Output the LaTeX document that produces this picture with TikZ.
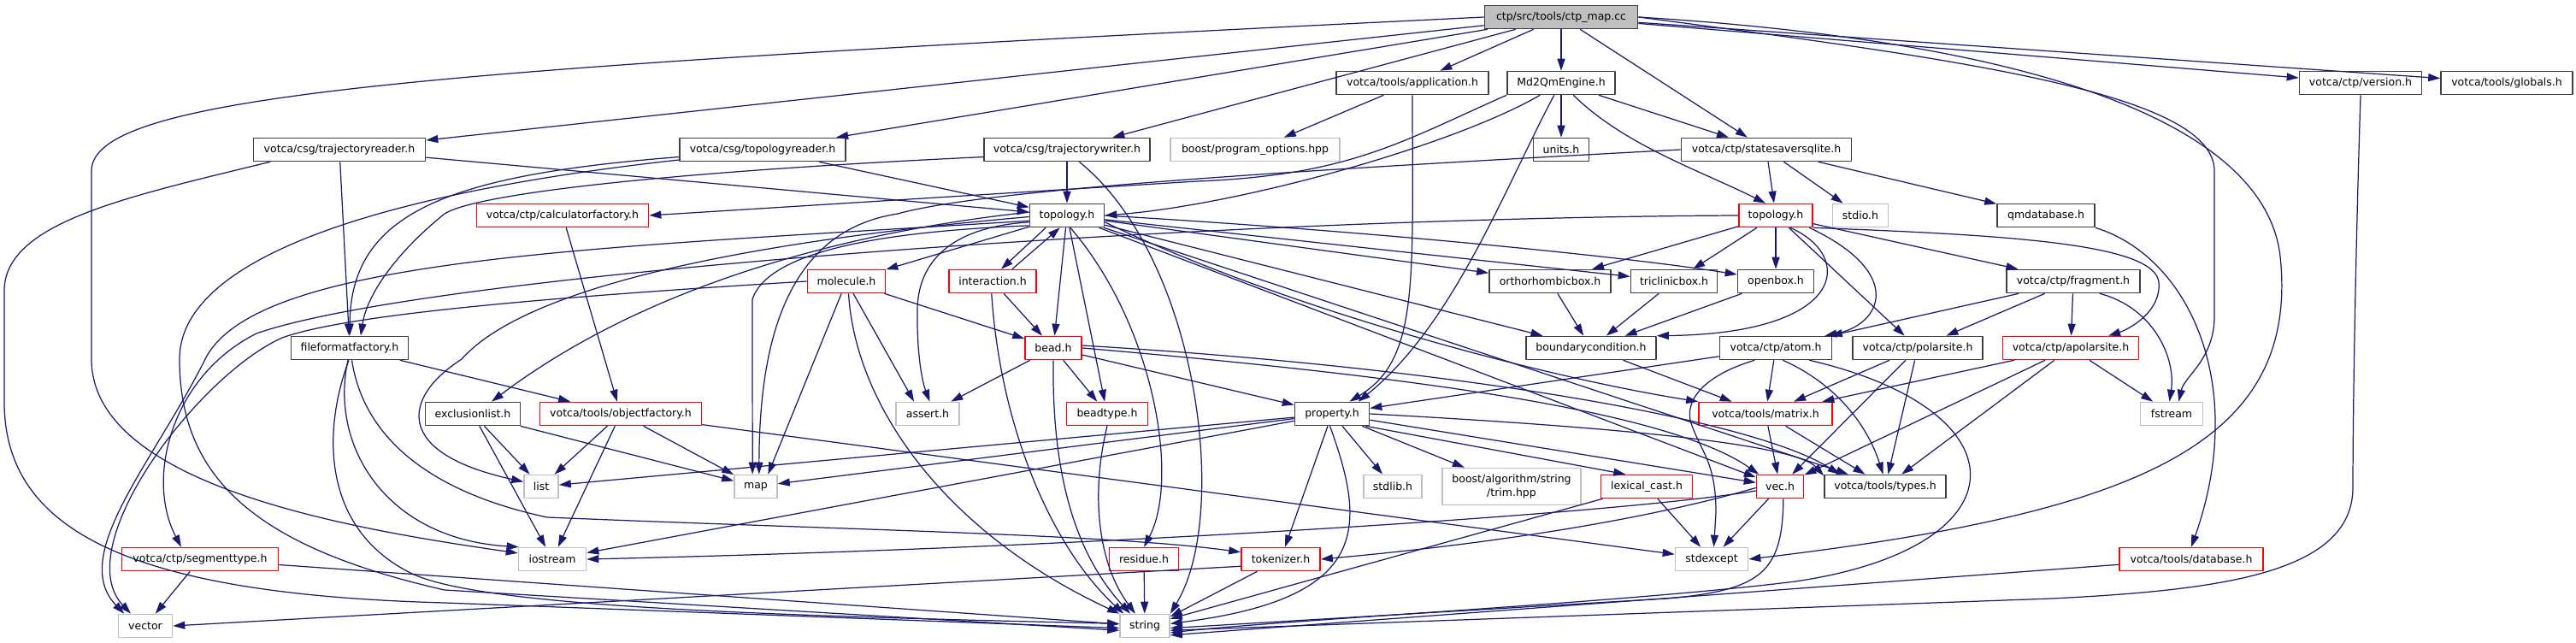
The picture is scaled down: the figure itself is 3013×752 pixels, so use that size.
\documentclass[tikz,border=0pt]{standalone}
\usepackage{fontspec}
\newfontfamily\hdrfont{DejaVu Sans}
\usetikzlibrary{arrows.meta}

\definecolor{edgeblue}{RGB}{25,25,112}
\definecolor{boxgray}{RGB}{191,191,191}
\definecolor{boxline}{RGB}{64,64,64}

\tikzset{
  file/.style={draw=boxline, fill=white, line width=0.45pt, inner sep=0pt,
    minimum height=0.27cm, font={\hdrfont\fontsize{3.55}{4.5}\selectfont}},
  trunc/.style={file, draw=red},
  sys/.style={file, draw=boxgray},
  root/.style={file, fill=boxgray},
  dep/.style={draw=edgeblue, line width=0.35pt, -{Triangle[length=1.4mm,width=0.9mm]}}
}

\begin{document}
\begin{tikzpicture}[x=0.01cm, y=-0.01cm, line join=round]
  \useasboundingbox (0,0) rectangle (3013,752);

  % headers, row by row
  \node[root, minimum width=1.79cm] (main) at (1826,20) {ctp/src/tools/ctp\_map.cc};

  \node[file, minimum width=1.78cm] (app) at (1652,97) {votca/tools/application.h};
  \node[file, minimum width=1.26cm] (md) at (1826,97) {Md2QmEngine.h};
  \node[file, minimum width=1.43cm] (ver) at (2761,97) {votca/ctp/version.h};
  \node[file, minimum width=1.54cm] (glob) at (2932,97) {votca/tools/globals.h};

  \node[file, minimum width=2.01cm] (trr) at (397,175) {votca/csg/trajectoryreader.h};
  \node[file, minimum width=1.94cm] (tpr) at (892,175) {votca/csg/topologyreader.h};
  \node[file, minimum width=1.94cm] (trw) at (1248,175) {votca/csg/trajectorywriter.h};
  \node[sys, minimum width=1.98cm] (popt) at (1468,175) {boost/program\_options.hpp};
  \node[file, minimum width=0.65cm] (units) at (1826,175) {units.h};
  \node[file, minimum width=1.99cm] (ssq) at (2066,175) {votca/ctp/statesaversqlite.h};

  \node[trunc, minimum width=2.01cm] (calc) at (658,252) {votca/ctp/calculatorfactory.h};
  \node[file, minimum width=0.87cm] (tcsg) at (1248,252) {topology.h};
  \node[trunc, minimum width=0.86cm] (tctp) at (2077,252) {topology.h};
  \node[sys, minimum width=0.65cm] (stdio) at (2176,252) {stdio.h};
  \node[file, minimum width=1.14cm] (qmdb) at (2393,252) {qmdatabase.h};

  \node[trunc, minimum width=0.91cm] (mol) at (990,329) {molecule.h};
  \node[trunc, minimum width=1.02cm] (inter) at (1161,329) {interaction.h};
  \node[file, minimum width=1.42cm] (ortho) at (1813,329) {orthorhombicbox.h};
  \node[file, minimum width=1.01cm] (tric) at (1958,329) {triclinicbox.h};
  \node[file, minimum width=0.89cm] (openb) at (2077,329) {openbox.h};
  \node[file, minimum width=1.56cm] (frag) at (2425,329) {votca/ctp/fragment.h};

  \node[file, minimum width=1.37cm] (fff) at (409,407) {fileformatfactory.h};
  \node[trunc, minimum width=0.66cm] (bead) at (1232,407) {bead.h};
  \node[file, minimum width=1.52cm] (bc) at (1861,407) {boundarycondition.h};
  \node[file, minimum width=1.31cm] (atom) at (2077,407) {votca/ctp/atom.h};
  \node[file, minimum width=1.52cm] (pol) at (2243,407) {votca/ctp/polarsite.h};
  \node[trunc, minimum width=1.59cm] (apol) at (2422,407) {votca/ctp/apolarsite.h};

  \node[file, minimum width=1.11cm] (excl) at (553,484) {exclusionlist.h};
  \node[trunc, minimum width=1.89cm] (objf) at (726,484) {votca/tools/objectfactory.h};
  \node[sys, minimum width=0.74cm] (asrt) at (1085,484) {assert.h};
  \node[trunc, minimum width=0.95cm] (btype) at (1295,484) {beadtype.h};
  \node[file, minimum width=0.87cm] (prop) at (1558,484) {property.h};
  \node[trunc, minimum width=1.56cm] (matr) at (2065,484) {votca/tools/matrix.h};
  \node[sys, minimum width=0.73cm] (fstr) at (2540,484) {fstream};

  \node[sys, minimum width=0.40cm] (list) at (633,569) {list};
  \node[sys, minimum width=0.50cm] (map) at (884,569) {map};
  \node[sys, minimum width=0.68cm] (stdl) at (1629,569) {stdlib.h};
  \node[sys, minimum width=1.62cm, minimum height=0.43cm, align=center] (trim) at (1768,569) {boost/algorithm/string\\/trim.hpp};
  \node[trunc, minimum width=1.07cm] (lexc) at (1926,569) {lexical\_cast.h};
  \node[trunc, minimum width=0.55cm] (vec) at (2082,569) {vec.h};
  \node[file, minimum width=1.42cm] (types) at (2205,569) {votca/tools/types.h};

  \node[trunc, minimum width=1.83cm] (segt) at (234,654) {votca/ctp/segmenttype.h};
  \node[sys, minimum width=0.79cm] (iost) at (646,654) {iostream};
  \node[trunc, minimum width=0.81cm] (resid) at (1338,654) {residue.h};
  \node[trunc, minimum width=0.92cm] (tok) at (1498,654) {tokenizer.h};
  \node[sys, minimum width=0.85cm] (stdx) at (2002,654) {stdexcept};
  \node[trunc, minimum width=1.68cm] (dbase) at (2563,654) {votca/tools/database.h};

  \node[sys, minimum width=0.63cm] (vect) at (170,732) {vector};
  \node[sys, minimum width=0.58cm] (str) at (1339,732) {string};

  % ctp_map.cc
  \draw[dep] (main) -- (trr);
  \draw[dep] (main) -- (tpr);
  \draw[dep] (main) -- (trw);
  \draw[dep] (main) -- (app);
  \draw[dep] (main) -- (md);
  \draw[dep] (main) -- (ssq);
  \draw[dep] (main) -- (ver);
  \draw[dep] (main) -- (glob);
  \draw[dep] (main.west) .. controls (500,80) and (107,110) .. (107,200) -- (107,420)
    .. controls (107,570) and (420,620) .. (iost.170);
  \draw[dep] (main.east) .. controls (2300,70) and (2590,110) .. (2590,200) -- (2590,370)
    .. controls (2590,420) and (2555,440) .. (fstr.60);
  \draw[dep] (main.east) .. controls (2400,50) and (2650,150) .. (2667,300)
    .. controls (2690,520) and (2500,600) .. (stdx.east);

  % application.h, Md2QmEngine.h
  \draw[dep] (app) -- (popt);
  \draw[dep] (app.south) .. controls (1652,330) and (1660,420) .. (prop.35);
  \draw[dep] (md) -- (units);
  \draw[dep] (md) -- (ssq);
  \draw[dep] (md.-45) .. controls (1900,170) and (1990,200) .. (tctp.130);
  \draw[dep] (md.-150) .. controls (1700,170) and (1450,240) .. (tcsg.east);
  \draw[dep] (md.south west) .. controls (1640,165) and (1580,205) .. (1400,212) -- (calc.east);
  \draw[dep] (md.-120) .. controls (1760,220) and (1700,380) .. (prop.25);

  % csg readers and writer
  \draw[dep] (trr) -- (tcsg);
  \draw[dep] (trr) -- (fff);
  \draw[dep] (trr.-170) .. controls (150,230) and (5,260) .. (5,340) -- (5,470)
    .. controls (5,620) and (150,695) .. (520,705) -- (str.185);
  \draw[dep] (tpr) -- (tcsg);
  \draw[dep] (tpr.185) .. controls (520,205) and (410,250) .. (fff.north);
  \draw[dep] (tpr.187) .. controls (450,225) and (210,300) .. (210,420)
    .. controls (210,560) and (300,640) .. (520,690) -- (str.190);
  \draw[dep] (trw) -- (tcsg);
  \draw[dep] (trw.185) .. controls (800,200) and (560,225) .. (520,250)
    .. controls (470,290) and (430,340) .. (fff.48);
  \draw[dep] (trw.-45) .. controls (1400,300) and (1440,600) .. (str.north east);

  % statesaversqlite.h, qmdatabase.h, version.h
  \draw[dep] (ssq) -- (tctp);
  \draw[dep] (ssq) -- (stdio);
  \draw[dep] (ssq) -- (qmdb);
  \draw[dep] (ssq.west) .. controls (1500,200) and (1150,222) .. (1050,250)
    .. controls (920,270) and (888,400) .. (map.75);
  \draw[dep] (qmdb.south east) .. controls (2560,300) and (2630,450) .. (dbase.north);
  \draw[dep] (ver.south) .. controls (2755,300) and (2752,480) .. (2752,570)
    .. controls (2752,670) and (2600,690) .. (2400,700) -- (str.-10);
  \draw[dep] (dbase) -- (str.-20);

  % factories, exclusionlist.h
  \draw[dep] (calc) -- (objf);
  \draw[dep] (fff) -- (objf);
  \draw[dep] (fff.-98) .. controls (385,520) and (450,630) .. (iost.160);
  \draw[dep] (fff.-80) .. controls (425,510) and (500,575) .. (640,605)
    .. controls (1000,620) and (1300,625) .. (tok.170);
  \draw[dep] (fff.-94) .. controls (375,510) and (380,620) .. (480,670)
    .. controls (560,710) and (900,720) .. (str.175);
  \draw[dep] (objf) -- (list);
  \draw[dep] (objf) -- (map);
  \draw[dep] (objf) -- (iost);
  \draw[dep] (objf) -- (stdx);
  \draw[dep] (excl) -- (list);
  \draw[dep] (excl) -- (map);
  \draw[dep] (excl) -- (iost);

  % topology.h (csg)
  \draw[dep] (tcsg.-150) -- (inter.55);
  \draw[dep] (inter.32) -- (tcsg.-120);
  \draw[dep] (tcsg) -- (mol);
  \draw[dep] (tcsg) -- (bead);
  \draw[dep] (tcsg) -- (btype);
  \draw[dep] (tcsg.-75) .. controls (1350,380) and (1380,560) .. (resid.north);
  \draw[dep] (tcsg.-170) .. controls (1120,265) and (1075,300) .. (1073,360)
    .. controls (1072,420) and (1080,450) .. (asrt.80);
  \draw[dep] (tcsg.-165) .. controls (1050,270) and (900,290) .. (880,350) -- (map.105);
  \draw[dep] (tcsg.175) .. controls (1000,270) and (760,330) .. (excl.33);
  \draw[dep] (tcsg.-178) .. controls (900,280) and (620,330) .. (540,420)
    .. controls (470,465) and (460,530) .. (list.165);
  \draw[dep] (tcsg.-172) .. controls (700,290) and (300,300) .. (240,420)
    .. controls (180,540) and (80,650) .. (vect.150);
  \draw[dep] (tcsg) -- (ortho);
  \draw[dep] (tcsg) -- (tric);
  \draw[dep] (tcsg.east) .. controls (1600,270) and (1900,300) .. (openb.170);
  \draw[dep] (tcsg) -- (bc);
  \draw[dep] (tcsg.-10) .. controls (1500,360) and (1800,440) .. (matr.north west);
  \draw[dep] (tcsg) -- (vec);
  \draw[dep] (tcsg) -- (types);

  % molecule.h, interaction.h, bead.h
  \draw[dep] (mol) -- (bead);
  \draw[dep] (mol) -- (asrt.138);
  \draw[dep] (mol) -- (map.45);
  \draw[dep] (mol.-80) .. controls (1000,470) and (1100,620) .. (str.north west);
  \draw[dep] (mol.west) .. controls (600,350) and (400,370) .. (330,395)
    .. controls (230,440) and (80,640) .. (vect.140);
  \draw[dep] (inter) -- (bead);
  \draw[dep] (inter.-95) .. controls (1170,500) and (1230,640) .. (str.150);
  \draw[dep] (bead) -- (asrt);
  \draw[dep] (bead) -- (btype);
  \draw[dep] (bead) -- (prop);
  \draw[dep] (bead.south) .. controls (1230,560) and (1260,650) .. (str.140);
  \draw[dep] (bead.east) .. controls (1650,440) and (1950,480) .. (vec.150);
  \draw[dep] (bead.5) .. controls (1700,430) and (2050,490) .. (types.165);
  \draw[dep] (btype.south) .. controls (1275,580) and (1285,660) .. (str.128);
  \draw[dep] (resid) -- (str);

  % property.h and below
  \draw[dep] (prop) -- (tok);
  \draw[dep] (prop) -- (stdl);
  \draw[dep] (prop) -- (trim);
  \draw[dep] (prop.-20) -- (lexc.150);
  \draw[dep] (prop) -- (list);
  \draw[dep] (prop) -- (map);
  \draw[dep] (prop) -- (iost);
  \draw[dep] (prop) -- (vec);
  \draw[dep] (prop.east) .. controls (1900,500) and (2100,520) .. (types.170);
  \draw[dep] (prop.-100) .. controls (1600,620) and (1600,700) .. (str.5);
  \draw[dep] (lexc) -- (stdx);
  \draw[dep] (lexc) -- (str);
  \draw[dep] (vec) -- (stdx);
  \draw[dep] (vec.190) .. controls (1900,600) and (1300,640) .. (iost.east);
  \draw[dep] (vec.183) .. controls (1900,615) and (1700,640) .. (tok.east);
  \draw[dep] (vec.-75) .. controls (2085,670) and (2060,690) .. (1950,700) -- (str.-5);
  \draw[dep] (tok) -- (str.20);
  \draw[dep] (tok.190) -- (vect.east);
  \draw[dep] (segt) -- (vect);
  \draw[dep] (segt) -- (str);

  % boxes, matrix.h
  \draw[dep] (ortho) -- (bc);
  \draw[dep] (tric) -- (bc);
  \draw[dep] (openb) -- (bc);
  \draw[dep] (bc) -- (matr.160);
  \draw[dep] (matr) -- (vec);
  \draw[dep] (matr) -- (types);

  % topology.h (ctp) and its sites
  \draw[dep] (tctp) -- (ortho);
  \draw[dep] (tctp) -- (tric);
  \draw[dep] (tctp) -- (openb);
  \draw[dep] (tctp) -- (pol);
  \draw[dep] (tctp) -- (frag);
  \draw[dep] (tctp.-40) .. controls (2170,300) and (2160,390) .. (bc.north east);
  \draw[dep] (tctp.-20) .. controls (2230,320) and (2200,380) .. (atom.14);
  \draw[dep] (tctp.south east) .. controls (2350,275) and (2520,285) .. (2525,330)
    .. controls (2528,365) and (2490,385) .. (apol.18);
  \draw[dep] (tctp.west) .. controls (1400,255) and (500,320) .. (300,390)
    .. controls (200,440) and (170,560) .. (segt.147);
  \draw[dep] (frag) -- (atom);
  \draw[dep] (frag) -- (pol);
  \draw[dep] (frag) -- (apol);
  \draw[dep] (frag.-25) .. controls (2520,360) and (2545,420) .. (fstr.100);
  \draw[dep] (atom) -- (matr);
  \draw[dep] (atom) -- (prop);
  \draw[dep] (atom.-60) .. controls (2150,450) and (2185,500) .. (types.100);
  \draw[dep] (atom.-150) .. controls (1990,440) and (1970,470) .. (1978,495)
    .. controls (1990,530) and (2007,540) .. (2007,600) -- (stdx.80);
  \draw[dep] (atom.-20) .. controls (2370,480) and (2370,640) .. (2100,680)
    .. controls (1900,705) and (1500,725) .. (str.-15);
  \draw[dep] (pol) -- (matr);
  \draw[dep] (pol) -- (vec);
  \draw[dep] (pol) -- (types);
  \draw[dep] (apol) -- (matr);
  \draw[dep] (apol) -- (vec);
  \draw[dep] (apol) -- (types);
  \draw[dep] (apol) -- (fstr);
\end{tikzpicture}
\end{document}
